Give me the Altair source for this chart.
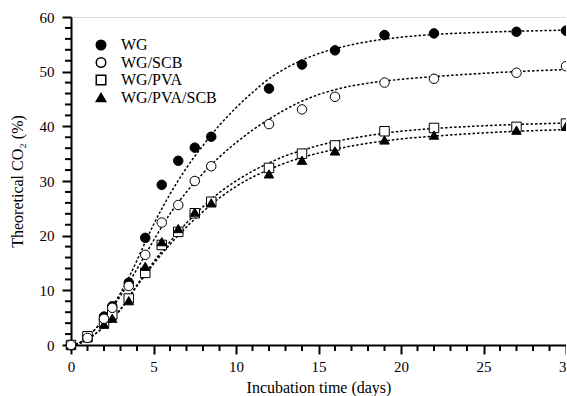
import altair as alt
import pandas as pd

# ---- measured data (days, % theoretical CO2) ----
days = [0, 1, 2, 2.5, 3.5, 4.5, 5.5, 6.5, 7.5, 8.5, 12, 14, 16, 19, 22, 27, 30]
wg = [0, 1.5, 5.2, 7.1, 11.4, 19.6, 29.3, 33.7, 36.1, 38.1, 46.9, 51.3, 53.9, 56.7, 57.0, 57.3, 57.5]
wg_scb = [0, 1.3, 4.8, 6.8, 10.8, 16.5, 22.4, 25.6, 30.0, 32.7, 40.4, 43.1, 45.4, 48.0, 48.7, 49.8, 51.0]
wg_pva = [0, 1.6, 4.1, 5.6, 8.5, 13.2, 18.3, 20.7, 24.1, 26.2, 32.4, 35.0, 36.5, 39.1, 39.7, 39.9, 40.5]
wg_pva_scb = [0, 1.3, 3.8, 4.9, 8.1, 14.4, 18.9, 21.3, 24.3, 26.0, 31.3, 33.8, 35.5, 37.5, 38.4, 39.3, 40.0]

# ---- fitted curves ----
fit_days = [0, 0.5, 1, 1.5, 2, 2.5, 3, 3.5, 4, 4.5, 5, 6, 7, 8, 9, 10, 11, 12, 13, 14, 15, 16, 18, 20, 22, 25, 30]
fit_wg = [0, 0.4, 1.5, 3.0, 4.8, 7.0, 9.5, 12.3, 15.5, 18.8, 22.0, 27.6, 32.4, 36.5, 40.2, 43.4, 46.2, 48.7, 50.6, 52.1, 53.3, 54.2, 55.5, 56.3, 56.8, 57.2, 57.6]
fit_wg_scb = [0, 0.4, 1.5, 3.0, 4.7, 6.8, 9.0, 11.4, 13.9, 16.5, 19.1, 24.0, 28.0, 31.4, 34.4, 37.0, 39.3, 41.3, 43.1, 44.6, 45.8, 46.7, 47.9, 48.6, 49.1, 49.7, 50.4]
fit_wg_pva = [0, 0.3, 1.0, 2.1, 3.3, 4.8, 6.5, 8.7, 11.0, 13.1, 15.2, 18.9, 22.3, 25.3, 27.9, 30.0, 31.8, 33.3, 34.6, 35.6, 36.5, 37.2, 38.3, 39.1, 39.6, 40.1, 40.6]
fit_wg_pva_scb = [0, 0.3, 1.0, 2.1, 3.3, 4.8, 6.5, 8.6, 10.8, 12.8, 14.8, 18.4, 21.6, 24.4, 26.9, 29.0, 30.7, 32.1, 33.3, 34.3, 35.1, 35.8, 36.9, 37.7, 38.2, 38.8, 39.4]

x_major = [0, 5, 10, 15, 20, 25, 30]
x_minor = [v for v in range(0, 31) if v % 5 != 0]
y_major = [0, 10, 20, 30, 40, 50, 60]
y_minor = [v for v in range(0, 61, 2) if v % 10 != 0]

series = ["WG", "WG/SCB", "WG/PVA", "WG/PVA/SCB"]
shapes = ["circle", "circle", "square", "triangle-up"]
fills = ["black", "white", "white", "black"]

pts = pd.concat([
    pd.DataFrame({"day": days, "val": v, "series": s})
    for s, v in zip(series, [wg, wg_scb, wg_pva, wg_pva_scb])
])
fits = pd.concat([
    pd.DataFrame({"day": fit_days, "val": v, "series": s})
    for s, v in zip(series, [fit_wg, fit_wg_scb, fit_wg_pva, fit_wg_pva_scb])
])
xminor_df = pd.DataFrame({"day": x_minor, "val": [0] * len(x_minor)})
yminor_df = pd.DataFrame({"day": [0] * len(y_minor), "val": y_minor})

FONT = "Liberation Serif"

x_axis = alt.Axis(
    values=x_major, tickSize=9,
    labelOverlap=False, labelFlush=False,
    labelFont=FONT, labelFontSize=15, labelColor="black", labelPadding=5,
    title="Incubation time (days)", titleFont=FONT, titleFontSize=16,
    titleFontWeight="normal", titleColor="black", titlePadding=5,
    domainColor="black", domainWidth=2, tickColor="black", tickWidth=2,
    grid=False,
)
y_axis = alt.Axis(
    values=y_major, tickSize=9,
    labelOverlap=False, labelFlush=False,
    labelFont=FONT, labelFontSize=15, labelColor="black", labelPadding=8,
    title="Theoretical CO₂ (%)", titleFont=FONT, titleFontSize=16,
    titleFontWeight="normal", titleColor="black", titlePadding=14,
    domainColor="black", domainWidth=2, tickColor="black", tickWidth=2,
    grid=False,
)

xs = alt.Scale(domain=[0, 30], nice=False, zero=False)
ys = alt.Scale(domain=[0, 60], nice=False)

lines = alt.Chart(fits).mark_line(
    color="black", strokeWidth=1.5, strokeDash=[2.5, 2], interpolate="monotone"
).encode(
    x=alt.X("day:Q", scale=xs, axis=x_axis),
    y=alt.Y("val:Q", scale=ys, axis=y_axis),
    detail="series:N",
)

# minor ticks (outward), positioned by the x / y scales
xminor = alt.Chart(xminor_df).mark_tick(
    orient="vertical", size=6, thickness=2, color="black", yOffset=3, opacity=1
).encode(
    x=alt.X("day:Q", scale=xs),
    y=alt.Y("val:Q", scale=ys),
)
yminor = alt.Chart(yminor_df).mark_tick(
    orient="horizontal", size=6, thickness=2, color="black", xOffset=-3, opacity=1
).encode(
    x=alt.X("day:Q", scale=xs),
    y=alt.Y("val:Q", scale=ys),
)

leg = dict(
    title=None, orient="none", legendX=22, legendY=20,
    labelFont=FONT, labelFontSize=16, labelColor="black",
    symbolSize=90, rowPadding=1.5, labelOffset=12, symbolOffset=0,
)

points = alt.Chart(pts).mark_point(
    stroke="black", strokeWidth=1, opacity=1, fillOpacity=1, size=90
).encode(
    x=alt.X("day:Q", scale=xs),
    y=alt.Y("val:Q", scale=ys),
    shape=alt.Shape("series:N", scale=alt.Scale(domain=series, range=shapes), legend=alt.Legend(**leg)),
    fill=alt.Fill("series:N", scale=alt.Scale(domain=series, range=fills), legend=alt.Legend(**leg)),
    order=alt.Order("series:N"),
)

chart = alt.layer(lines, xminor, yminor, points).properties(
    width=495,
    height=328,
    padding={"left": 71, "top": 17, "right": 0, "bottom": 51},
    autosize=alt.AutoSizeParams(type="none"),
).configure_view(
    stroke="black", strokeWidth=2
).configure_legend(
    symbolStrokeColor="black", symbolStrokeWidth=1,
).configure(background="white")

chart.save("out.html", embed_options={"renderer": "svg", "actions": False})
